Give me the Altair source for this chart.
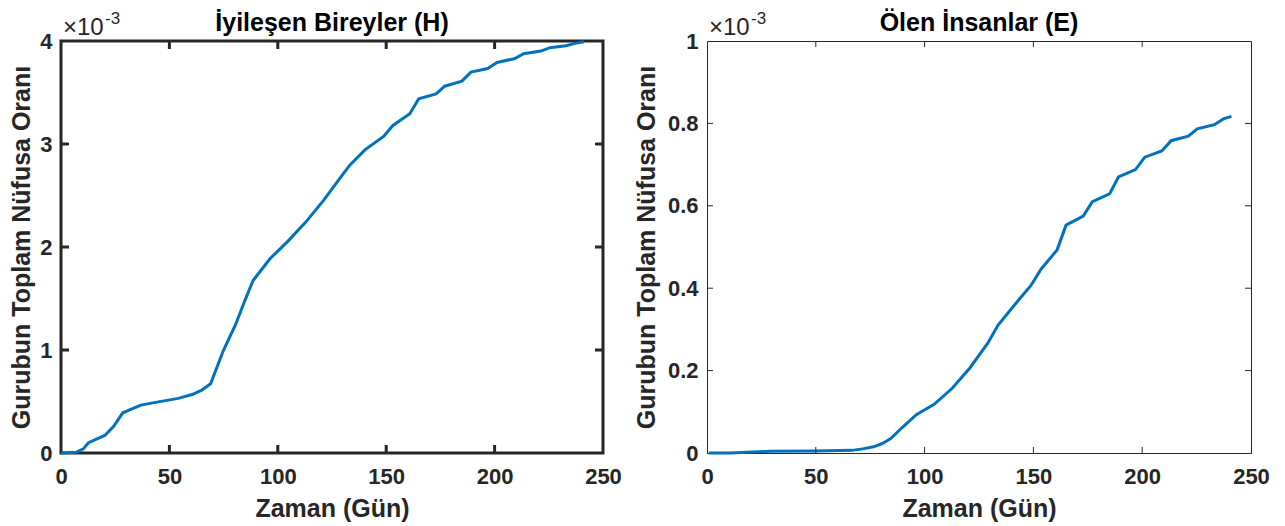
import altair as alt
import pandas as pd

# ---- data (values in units of 1e-3) ----
days_h = [0, 7, 10.3, 12.7, 20.2, 24.3, 28.5, 36.8, 44.2, 54.1, 60.8, 64.9, 69, 74.8, 80.6, 84.8, 88.6,
          96.4, 104.6, 113, 121.2, 128.6, 133.3, 140.2, 148.8, 153.1, 160.9, 165, 173, 177, 184.9,
          189.1, 196.8, 201.1, 209.1, 213.4, 221.3, 225.5, 232.9, 237.1, 241.2]
h_vals = [0, 0.007, 0.04, 0.10, 0.17, 0.26, 0.39, 0.465, 0.494, 0.53, 0.57, 0.61, 0.673, 0.99, 1.25, 1.48,
          1.675, 1.886, 2.055, 2.244, 2.455, 2.667, 2.797, 2.943, 3.073, 3.18, 3.294, 3.44, 3.486, 3.561,
          3.61, 3.698, 3.733, 3.792, 3.828, 3.876, 3.902, 3.935, 3.954, 3.977, 3.993]

days_e = [0.8, 10.7, 28.8, 50.2, 66.6, 71.5, 76.5, 80.6, 84.7, 89.3, 96.2, 104.4, 112.7, 120.9, 129.1,
          133.7, 141.4, 148.8, 153.5, 160.9, 165, 172.9, 177.1, 185, 189.1, 196.9, 201.2, 209, 213.3,
          221.2, 225.3, 233.2, 237.3, 241]
e_vals = [0, 0, 0.004, 0.005, 0.0064, 0.01, 0.015, 0.023, 0.036, 0.06, 0.093, 0.118, 0.157, 0.207, 0.267,
          0.31, 0.36, 0.406, 0.446, 0.493, 0.553, 0.575, 0.61, 0.629, 0.67, 0.688, 0.718, 0.733, 0.758,
          0.769, 0.787, 0.797, 0.811, 0.817]

x_ticks = [0, 50, 100, 150, 200, 250]
h_ticks = [0, 1, 2, 3, 4]
e_ticks = [0, 0.2, 0.4, 0.6, 0.8, 1]

titles = ["İyileşen Bireyler (H)", "Ölen İnsanlar (E)"]
y_title = "Gurubun Toplam Nüfusa Oranı"
x_title = "Zaman (Gün)"

FONT = "Liberation Sans"
AX = "#262626"
LINE = "#0072BD"
H = 412


def panel(days, vals, yticks, ymax, title, border, tick_len, W, ytp):
    df = pd.DataFrame({"gun": days, "oran": vals})
    xs = alt.Scale(domain=[0, 250], nice=False, zero=False)
    ys = alt.Scale(domain=[0, ymax], nice=False, zero=False)
    common_axis = dict(labelFont=FONT, labelFontSize=22, labelFontWeight="bold", labelColor=AX,
                       titleFont=FONT, titleFontSize=25, titleFontWeight="bold", titleColor=AX,
                       domain=False, grid=False, ticks=False, labelFlush=False)
    xaxis = alt.Axis(values=x_ticks, title=x_title, labelPadding=13, titlePadding=9, **common_axis)
    yaxis = alt.Axis(values=yticks, format="~g", title=y_title, labelPadding=9, titlePadding=ytp,
                     **common_axis)
    line = alt.Chart(df).mark_line(color=LINE, strokeWidth=3).encode(
        x=alt.X("gun:Q", scale=xs, axis=xaxis),
        y=alt.Y("oran:Q", scale=ys, axis=yaxis),
    )
    xt = alt.Chart(pd.DataFrame({"gun": x_ticks[1:-1]}))
    yt = alt.Chart(pd.DataFrame({"oran": yticks[1:-1]}))
    rx = dict(color=AX, strokeWidth=border)
    t_bottom = xt.mark_rule(**rx).encode(x=alt.X("gun:Q", scale=xs, axis=xaxis),
                                         y=alt.value(H), y2=alt.value(H - tick_len))
    t_top = xt.mark_rule(**rx).encode(x=alt.X("gun:Q", scale=xs, axis=xaxis),
                                      y=alt.value(0), y2=alt.value(tick_len))
    t_left = yt.mark_rule(**rx).encode(y=alt.Y("oran:Q", scale=ys, axis=yaxis),
                                       x=alt.value(0), x2=alt.value(tick_len))
    t_right = yt.mark_rule(**rx).encode(y=alt.Y("oran:Q", scale=ys, axis=yaxis),
                                        x=alt.value(W), x2=alt.value(W - tick_len))
    mult = alt.Chart(pd.DataFrame({"t": ["×10"]})).mark_text(
        font=FONT, fontSize=24, color=AX, align="left", baseline="alphabetic"
    ).encode(x=alt.value(2), y=alt.value(-6), text="t:N")
    expo = alt.Chart(pd.DataFrame({"t": ["-3"]})).mark_text(
        font=FONT, fontSize=17, color=AX, align="left", baseline="alphabetic"
    ).encode(x=alt.value(44), y=alt.value(-17), text="t:N")
    ttl = alt.Chart(pd.DataFrame({"t": [title]})).mark_text(
        font=FONT, fontSize=25, fontWeight="bold", color="black", align="center",
        baseline="alphabetic"
    ).encode(x=alt.value(W / 2), y=alt.value(-10), text="t:N")
    return alt.layer(line, t_bottom, t_top, t_left, t_right, mult, expo, ttl).properties(
        width=W, height=H,
        view=alt.ViewBackground(stroke=AX, strokeWidth=border),
    )


left = panel(days_h, h_vals, h_ticks, 4, titles[0], 3, 8, 542, 5)
right = panel(days_e, e_vals, e_ticks, 1, titles[1], 1, 6, 544, 8)

chart = alt.hconcat(left, right, spacing=10).properties(
    padding={"left": 0, "top": 0, "right": 0, "bottom": 0}
).configure(background="white")

chart.save("out.html", embed_options={"renderer": "svg", "actions": False})
